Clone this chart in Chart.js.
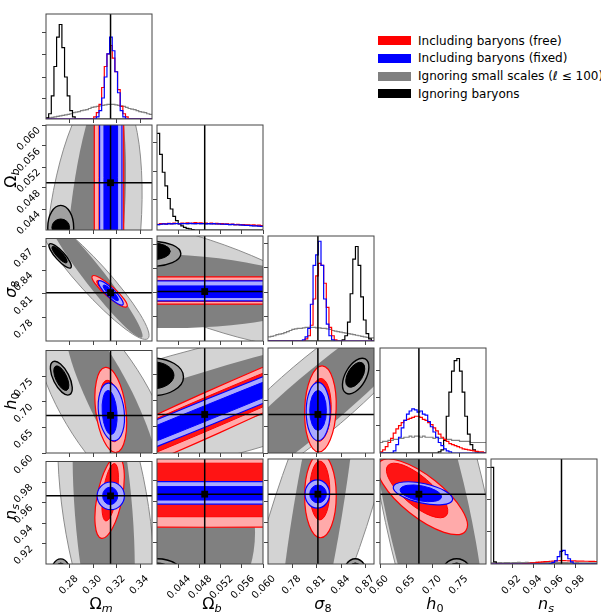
<!DOCTYPE html>
<html>
<head>
<meta charset="utf-8">
<script src="https://cdn.jsdelivr.net/npm/chart.js@4.4.0/dist/chart.umd.min.js"></script>
<style>
  body { margin: 0; background: #fff; width: 601px; height: 613px; position: relative; overflow: hidden; font-family: "DejaVu Sans", sans-serif; }
  canvas { position: absolute; }
  .axlab { position: absolute; font-size: 16px; text-align: center; white-space: nowrap; line-height: 20px; }
  .axlab sub { font-size: 70%; vertical-align: -0.25em; line-height: 0; }
  .leg { position: absolute; font-size: 12px; white-space: nowrap; line-height: 14px; }
  .legbox { position: absolute; width: 33px; height: 9px; }
</style>
</head>
<body>
<script>
// parameter ranges, truth values and ticks
const ranges = [[0.26, 0.35], [0.04, 0.06], [0.75, 0.88], [0.60, 0.80], [0.90, 1.00]];
const truth = [0.3148, 0.0490, 0.8112, 0.6734, 0.9665];
const tickVals = [[0.28, 0.30, 0.32, 0.34], [0.044, 0.048, 0.052, 0.056, 0.060], [0.78, 0.81, 0.84, 0.87], [0.60, 0.65, 0.70, 0.75], [0.92, 0.94, 0.96, 0.98]];
const tickDigits = [2, 3, 2, 2, 2];
const diagTicks = [[0.2, 0.4, 0.61, 0.82], [0.29, 0.56, 0.83], [0.23, 0.46, 0.70, 0.93], [0.26, 0.53, 0.79], [0.31, 0.61, 0.92]];
const axisLabels = ['Ω<sub><i>m</i></sub>', 'Ω<sub><i>b</i></sub>', '<i>σ</i><sub>8</sub>', '<i>h</i><sub>0</sub>', '<i>n</i><sub><i>s</i></sub>'];

const legendLabels = ['Including baryons (free)', 'Including baryons (fixed)', 'Ignoring small scales (<i>ℓ</i> ≤ 100)', 'Ignoring baryons'];
const legendColors = ['#ff0000', '#0000ff', '#808080', '#000000'];

// 1D histograms, 40 bins over each range, height as fraction of panel
const histBlack = [
  [0.01,0.05,0.22,0.50,0.78,0.90,0.68,0.40,0.22,0.08,0.02,0,0,0,0,0,0,0,0,0,0,0,0,0,0,0,0,0,0,0,0,0,0,0,0,0,0,0,0,0],
  [0.92,0.72,0.55,0.42,0.30,0.20,0.13,0.09,0.06,0.04,0.025,0.015,0.01,0.005,0,0,0,0,0,0,0,0,0,0,0,0,0,0,0,0,0,0,0,0,0,0,0,0,0,0],
  [0,0,0,0,0,0,0,0,0,0,0,0,0,0,0,0,0,0,0,0,0,0,0,0,0,0,0,0,0.01,0.05,0.18,0.45,0.78,0.90,0.72,0.42,0.20,0.07,0.02,0],
  [0,0,0,0,0,0,0,0,0,0,0,0,0,0,0,0,0,0,0,0,0,0,0.01,0.03,0.12,0.35,0.58,0.78,0.88,0.90,0.78,0.58,0.35,0.18,0.08,0.03,0.01,0,0,0],
  [0.92,0.02,0,0,0,0,0,0,0,0,0,0,0,0,0,0,0,0,0,0,0,0,0,0,0,0,0,0,0,0,0,0,0,0,0,0,0,0,0,0]
];
const histRed = [
  [0,0,0,0,0,0,0,0,0,0,0,0,0,0,0,0,0,0,0.02,0.06,0.14,0.30,0.50,0.62,0.70,0.58,0.45,0.28,0.12,0.05,0.02,0,0,0,0,0,0,0,0,0],
  [0.055,0.06,0.062,0.058,0.063,0.06,0.065,0.062,0.06,0.066,0.063,0.068,0.064,0.066,0.07,0.065,0.068,0.064,0.066,0.062,0.065,0.06,0.063,0.058,0.06,0.056,0.058,0.054,0.056,0.052,0.054,0.05,0.052,0.048,0.05,0.046,0.048,0.044,0.046,0.042],
  [0,0,0,0,0,0,0,0,0,0,0,0,0,0,0.02,0.05,0.15,0.40,0.62,0.74,0.72,0.55,0.32,0.13,0.05,0.01,0,0,0,0,0,0,0,0,0,0,0,0,0,0],
  [0.01,0.03,0.06,0.10,0.14,0.19,0.23,0.26,0.29,0.31,0.32,0.33,0.34,0.35,0.35,0.34,0.32,0.31,0.29,0.27,0.24,0.21,0.18,0.15,0.13,0.11,0.09,0.08,0.07,0.06,0.05,0.04,0.035,0.03,0.025,0.02,0.015,0.01,0.01,0.005],
  [0,0,0,0,0,0,0,0,0,0,0,0,0.003,0.005,0.007,0.01,0.012,0.015,0.018,0.02,0.022,0.024,0.026,0.028,0.03,0.031,0.032,0.032,0.031,0.03,0.03,0.029,0.028,0.028,0.027,0.026,0.026,0.025,0.025,0.024]
];
const histBlue = [
  [0,0,0,0,0,0,0,0,0,0,0,0,0,0,0,0,0,0,0,0.02,0.08,0.20,0.40,0.62,0.78,0.65,0.45,0.25,0.08,0.02,0,0,0,0,0,0,0,0,0,0],
  [0.052,0.055,0.058,0.056,0.06,0.058,0.06,0.062,0.058,0.06,0.062,0.06,0.063,0.061,0.06,0.062,0.06,0.061,0.059,0.06,0.058,0.06,0.057,0.058,0.055,0.056,0.054,0.052,0.053,0.05,0.05,0.048,0.047,0.045,0.044,0.042,0.04,0.039,0.037,0.035],
  [0,0,0,0,0,0,0,0,0,0,0,0,0,0.01,0.04,0.12,0.35,0.72,0.82,0.95,0.72,0.40,0.16,0.05,0.01,0,0,0,0,0,0,0,0,0,0,0,0,0,0,0],
  [0,0,0,0,0,0.02,0.08,0.15,0.24,0.31,0.37,0.40,0.42,0.41,0.39,0.40,0.37,0.36,0.30,0.25,0.20,0.15,0.10,0.07,0.04,0.02,0.01,0,0,0,0,0,0,0,0,0,0,0,0,0],
  [0,0,0,0,0,0,0,0,0,0,0,0,0,0,0,0,0,0,0,0,0,0,0.005,0.015,0.03,0.07,0.12,0.13,0.09,0.05,0.02,0.005,0,0,0,0,0,0,0,0]
];
const histGray = [
  [0.01,0.01,0.015,0.02,0.025,0.03,0.035,0.04,0.045,0.05,0.06,0.065,0.07,0.08,0.085,0.09,0.10,0.11,0.115,0.12,0.125,0.13,0.135,0.14,0.14,0.14,0.135,0.13,0.125,0.12,0.11,0.10,0.095,0.09,0.08,0.07,0.065,0.06,0.05,0.045],
  [0.05,0.054,0.056,0.055,0.058,0.057,0.059,0.06,0.057,0.059,0.06,0.059,0.061,0.06,0.059,0.06,0.059,0.06,0.058,0.059,0.057,0.058,0.056,0.057,0.054,0.055,0.053,0.051,0.052,0.049,0.049,0.047,0.046,0.044,0.043,0.041,0.039,0.038,0.036,0.034],
  [0.04,0.045,0.05,0.06,0.065,0.07,0.08,0.09,0.10,0.11,0.115,0.12,0.12,0.125,0.13,0.13,0.13,0.13,0.125,0.125,0.12,0.12,0.115,0.11,0.10,0.095,0.09,0.085,0.08,0.075,0.07,0.065,0.06,0.055,0.05,0.045,0.04,0.035,0.03,0.03],
  [0.10,0.11,0.11,0.12,0.12,0.13,0.13,0.14,0.14,0.15,0.15,0.16,0.15,0.16,0.16,0.15,0.16,0.15,0.15,0.15,0.14,0.15,0.14,0.14,0.13,0.13,0.13,0.12,0.12,0.12,0.11,0.11,0.11,0.11,0.10,0.10,0.10,0.10,0.10,0.10],
  [0.01,0.012,0.011,0.013,0.012,0.014,0.013,0.012,0.014,0.013,0.015,0.014,0.013,0.015,0.014,0.013,0.014,0.015,0.014,0.013,0.014,0.013,0.015,0.014,0.013,0.014,0.012,0.013,0.014,0.012,0.013,0.012,0.013,0.011,0.012,0.012,0.011,0.012,0.011,0.01]
];

// 2D contours: [xParam, yParam, centreX, centreY, halfWidthX, halfWidthY, tilt]
const grayOuter = [
  [0,1, 0.300, 0.038, 0.0416, 0.030, 0.30], [0,2, 0.300, 0.830, 0.0475, 0.078, -0.934],
  [0,3, 0.310, 0.700, 0.060, 0.200, -0.70], [0,4, 0.311, 0.950, 0.041, 0.150, -0.44],
  [1,2, 0.050, 0.820, 0.027, 0.080, -0.726], [1,3, 0.050, 0.695, 0.050, 0.1665, 0.751],
  [1,4, 0.047, 0.940, 0.020, 0.130, 0], [2,3, 0.810, 0.710, 0.150, 0.2012, 0.8945],
  [2,4, 0.815, 0.950, 0.103, 0.207, 0.80], [3,4, 0.706, 0.950, 0.140, 0.240, -0.70]
];
const grayInner = [
  [0,1, 0.3017, 0.038, 0.0262, 0.030, 0.44], [0,2, 0.302, 0.830, 0.040, 0.076, -0.964],
  [0,3, 0.316, 0.700, 0.040, 0.170, -0.85], [0,4, 0.309, 0.950, 0.0264, 0.150, -0.37],
  [1,2, 0.040, 0.812, 0.030, 0.046, -0.1], [1,3, 0.050, 0.700, 0.050, 0.1608, 0.933],
  [1,4, 0.045, 0.930, 0.0135, 0.090, 0], [2,3, 0.810, 0.700, 0.150, 0.1995, 0.94],
  [2,4, 0.811, 0.950, 0.0508, 0.1957, 0.80], [3,4, 0.690, 0.950, 0.112, 0.190, -0.70]
];
const blackOuter = [
  [0,1, 0.2725, 0.0405, 0.011, 0.0042, 0], [0,2, 0.272, 0.858, 0.0095, 0.0155, -0.85],
  [0,3, 0.273, 0.746, 0.0093, 0.033, -0.6], [0,4, 0.2725, 0.885, 0.0095, 0.020, 0],
  [1,2, 0.039, 0.858, 0.0055, 0.0155, 0], [1,3, 0.039, 0.745, 0.006, 0.036, 0],
  [1,4, 0.040, 0.885, 0.0055, 0.020, 0], [2,3, 0.8575, 0.7465, 0.0162, 0.034, 0.5],
  [2,4, 0.857, 0.885, 0.0162, 0.020, 0], [3,4, 0.7446, 0.885, 0.032, 0.020, 0]
];
const blackInner = [
  [0,1, 0.2725, 0.0405, 0.0075, 0.0016, 0], [0,2, 0.2715, 0.8595, 0.0065, 0.0105, -0.85],
  [0,3, 0.273, 0.746, 0.0064, 0.024, -0.6], [0,4, 0.2725, 0.885, 0.0065, 0.016, 0],
  [1,2, 0.039, 0.861, 0.0035, 0.0105, 0], [1,3, 0.039, 0.748, 0.0042, 0.026, 0],
  [1,4, 0.040, 0.885, 0.0038, 0.016, 0], [2,3, 0.857, 0.749, 0.0117, 0.0238, 0.5],
  [2,4, 0.857, 0.885, 0.0117, 0.016, 0], [3,4, 0.7446, 0.885, 0.023, 0.016, 0]
];
const redOuter = [
  [0,1, 0.3135, 0.050, 0.0125, 0.200, 0], [0,2, 0.314, 0.813, 0.015, 0.020, -0.9],
  [0,3, 0.315, 0.684, 0.0135, 0.083, -0.3], [0,4, 0.314, 0.965, 0.0125, 0.040, 0.5],
  [1,2, 0.050, 0.8125, 0.200, 0.0168, 0], [1,3, 0.050, 0.675, 0.050, 0.2294, 0.981],
  [1,4, 0.050, 0.975, 0.200, 0.040, 0], [2,3, 0.8143, 0.684, 0.0194, 0.082, 0.1],
  [2,4, 0.8143, 0.965, 0.0194, 0.040, 0], [3,4, 0.680, 0.964, 0.085, 0.036, -0.75]
];
const redInner = [
  [0,1, 0.3135, 0.050, 0.0085, 0.200, 0], [0,2, 0.314, 0.812, 0.011, 0.015, -0.9],
  [0,3, 0.315, 0.682, 0.0095, 0.060, -0.3], [0,4, 0.3145, 0.970, 0.007, 0.028, 0.5],
  [1,2, 0.050, 0.812, 0.200, 0.013, 0], [1,3, 0.050, 0.677, 0.050, 0.2175, 0.9886],
  [1,4, 0.050, 0.9705, 0.200, 0.0255, 0], [2,3, 0.8135, 0.682, 0.014, 0.060, 0.1],
  [2,4, 0.8135, 0.970, 0.0123, 0.028, 0], [3,4, 0.670, 0.970, 0.058, 0.026, -0.75]
];
const blueOuter = [
  [0,1, 0.315, 0.050, 0.0095, 0.200, 0], [0,2, 0.315, 0.811, 0.0106, 0.0155, -0.88],
  [0,3, 0.3155, 0.680, 0.0112, 0.0565, -0.2], [0,4, 0.315, 0.9665, 0.0116, 0.0135, 0],
  [1,2, 0.050, 0.812, 0.200, 0.0124, 0], [1,3, 0.050, 0.679, 0.050, 0.2066, 0.992],
  [1,4, 0.050, 0.9677, 0.200, 0.0107, 0], [2,3, 0.8115, 0.679, 0.0147, 0.0555, 0],
  [2,4, 0.8104, 0.9667, 0.015, 0.0135, 0], [3,4, 0.681, 0.9673, 0.056, 0.011, -0.5]
];
const blueInner = [
  [0,1, 0.315, 0.050, 0.0058, 0.200, 0], [0,2, 0.315, 0.811, 0.0065, 0.010, -0.88],
  [0,3, 0.314, 0.679, 0.0064, 0.043, -0.2], [0,4, 0.3145, 0.9665, 0.0064, 0.0085, 0],
  [1,2, 0.050, 0.811, 0.200, 0.0072, 0], [1,3, 0.050, 0.679, 0.050, 0.2055, 0.9973],
  [1,4, 0.050, 0.9673, 0.200, 0.0064, 0], [2,3, 0.8114, 0.681, 0.0102, 0.038, 0],
  [2,4, 0.8114, 0.9667, 0.0102, 0.0085, 0], [3,4, 0.677, 0.9673, 0.039, 0.008, -0.4]
];

// layout
const colLeft = [46, 157, 268, 380, 491];
const rowTop = [14, 125, 236, 348, 459];
const PW = 106, PH = 105;
const padL = 60, padB = 60, padT = 14, padR = 14;
const FONT = 'DejaVu Sans';
const frameCol = '#444444';
const xLabelShift = [7, 11, 7, 7, 7];
const yLabelPad = [0, 3, 10.5, 10.5, 10.5];

const layers = [
  [grayOuter, '#d3d3d3', '#8c8c8c', 1],
  [grayInner, '#808080', null, 0],
  [blackOuter, '#a0a0a0', '#000000', 1.4],
  [blackInner, '#000000', '#000000', 1],
  [redOuter, '#ffaaaa', '#ff0000', 1.2],
  [redInner, '#ff1414', '#ff0000', 1],
  [blueOuter, '#aaaaff', '#0000ff', 1.2],
  [blueInner, '#0000ff', '#0000ff', 1]
];

function drawEllipse(ctx, chart, e, fill, stroke, lw) {
  const xs = chart.scales.x, ys = chart.scales.y;
  const px = xs.getPixelForValue(e[2]), py = ys.getPixelForValue(e[3]);
  const kx = (xs.getPixelForValue(xs.max) - xs.getPixelForValue(xs.min)) / (xs.max - xs.min);
  const ky = (ys.getPixelForValue(ys.max) - ys.getPixelForValue(ys.min)) / (ys.max - ys.min);
  const sxx = Math.pow(e[4] * kx, 2), syy = Math.pow(e[5] * ky, 2);
  const sxy = e[6] * e[4] * e[5] * kx * ky;
  const tr = (sxx + syy) / 2, det = sxx * syy - sxy * sxy;
  const d = Math.sqrt(Math.max(tr * tr - det, 0));
  const r1 = Math.sqrt(tr + d), r2 = Math.sqrt(Math.max(tr - d, 0.01));
  const ang = 0.5 * Math.atan2(2 * sxy, sxx - syy);
  ctx.beginPath();
  ctx.ellipse(px, py, r1, r2, ang, 0, Math.PI * 2);
  if (fill) { ctx.fillStyle = fill; ctx.fill(); }
  if (stroke) { ctx.strokeStyle = stroke; ctx.lineWidth = lw; ctx.stroke(); }
}

const cornerPlugin = {
  id: 'corner',
  beforeDatasetsDraw(chart, args, opts) {
    if (opts.row === opts.col) return;
    const ctx = chart.ctx, ca = chart.chartArea;
    ctx.save();
    ctx.beginPath();
    ctx.rect(ca.left, ca.top, ca.right - ca.left, ca.bottom - ca.top);
    ctx.clip();
    layers.forEach(([list, fill, stroke, lw]) => {
      list.filter(e => e[0] === opts.col && e[1] === opts.row)
        .forEach(e => drawEllipse(ctx, chart, e, fill, stroke, lw));
    });
    ctx.restore();
  },
  afterDatasetsDraw(chart) {
    const ctx = chart.ctx, ca = chart.chartArea;
    ctx.save();
    ctx.strokeStyle = frameCol;
    ctx.lineWidth = 1;
    ctx.strokeRect(ca.left, ca.top, ca.right - ca.left, ca.bottom - ca.top);
    ctx.restore();
  }
};

function histPoints(vals, range) {
  const w = (range[1] - range[0]) / vals.length;
  const pts = vals.map((v, i) => ({ x: range[0] + i * w, y: v }));
  pts.push({ x: range[1], y: vals[vals.length - 1] });
  return pts;
}

function histSet(vals, range, color, order) {
  return { type: 'line', data: histPoints(vals, range), borderColor: color, borderWidth: 1.2,
    stepped: 'before', pointRadius: 0, fill: false, clip: 0, order: order };
}

function lineSet(pts, order) {
  return { type: 'line', data: pts, borderColor: '#000', borderWidth: 1.5, pointRadius: 0,
    fill: false, clip: 0, order: order };
}

function makePanel(r, c) {
  const diag = r === c;
  const xr = ranges[c];
  const yr = diag ? [0, 1] : ranges[r];
  const cv = document.createElement('canvas');
  cv.width = PW + padL + padR;
  cv.height = PH + padT + padB;
  cv.style.left = (colLeft[c] - padL) + 'px';
  cv.style.top = (rowTop[r] - padT) + 'px';
  cv.style.width = cv.width + 'px';
  cv.style.height = cv.height + 'px';
  document.body.appendChild(cv);

  let datasets;
  if (diag) {
    datasets = [
      histSet(histGray[c], xr, '#808080', 5),
      histSet(histBlack[c], xr, '#000000', 4),
      histSet(histRed[c], xr, '#ff0000', 3),
      histSet(histBlue[c], xr, '#0000ff', 2),
      lineSet([{ x: truth[c], y: 0 }, { x: truth[c], y: 1 }], 1)
    ];
  } else {
    datasets = [
      lineSet([{ x: truth[c], y: yr[0] }, { x: truth[c], y: yr[1] }], 2),
      lineSet([{ x: xr[0], y: truth[r] }, { x: xr[1], y: truth[r] }], 1),
      { type: 'scatter', data: [{ x: truth[c], y: truth[r] }], pointStyle: 'rect', pointRadius: 4.8,
        backgroundColor: '#000', borderColor: '#000', borderWidth: 0, clip: 0, order: 0 }
    ];
  }

  const tickFont = { family: FONT, size: 10 };
  new Chart(cv, {
    type: 'line',
    data: { datasets: datasets },
    options: {
      responsive: false,
      animation: false,
      events: [],
      layout: { padding: { top: padT, right: padR, left: 0, bottom: 0 } },
      plugins: { legend: { display: false }, tooltip: { enabled: false }, corner: { row: r, col: c } },
      scales: {
        x: {
          type: 'linear', min: xr[0], max: xr[1],
          afterBuildTicks: s => { s.ticks = tickVals[c].map(v => ({ value: v })); },
          afterFit: s => { s.height = padB; },
          grid: { drawOnChartArea: false, drawTicks: true, tickLength: 4, color: frameCol, lineWidth: 1 },
          border: { display: false },
          ticks: { display: r === 4, minRotation: 45, maxRotation: 45, padding: 5, labelOffset: xLabelShift[c],
            color: '#000', font: tickFont, callback: v => Number(v).toFixed(tickDigits[c]) }
        },
        y: {
          type: 'linear', min: yr[0], max: yr[1],
          afterBuildTicks: s => { s.ticks = (diag ? diagTicks[r] : tickVals[r]).map(v => ({ value: v })); },
          afterFit: s => { s.width = padL; },
          grid: { drawOnChartArea: false, drawTicks: true, tickLength: 4, color: frameCol, lineWidth: 1 },
          border: { display: false },
          ticks: { display: c === 0 && r > 0, minRotation: 45, maxRotation: 45, padding: yLabelPad[r], labelOffset: 4,
            color: '#000', font: tickFont, callback: v => Number(v).toFixed(tickDigits[r]) }
        }
      }
    },
    plugins: [cornerPlugin]
  });
}

for (let r = 0; r < 5; r++) {
  for (let c = 0; c <= r; c++) makePanel(r, c);
}

// axis labels
axisLabels.forEach((html, i) => {
  const d = document.createElement('div');
  d.className = 'axlab';
  d.innerHTML = html;
  d.style.width = PW + 'px';
  d.style.left = (colLeft[i] + 2) + 'px';
  d.style.top = '594px';
  document.body.appendChild(d);
  if (i > 0) {
    const y = document.createElement('div');
    y.className = 'axlab';
    y.innerHTML = html;
    y.style.width = PW + 'px';
    y.style.left = (11 - PW / 2) + 'px';
    y.style.top = (rowTop[i] + PH / 2 - 10) + 'px';
    y.style.transform = 'rotate(-90deg)';
    document.body.appendChild(y);
  }
});

// legend
legendLabels.forEach((txt, i) => {
  const cy = 40.5 + i * 17.8;
  const b = document.createElement('div');
  b.className = 'legbox';
  b.style.left = '378px';
  b.style.top = (cy - 4.5) + 'px';
  b.style.background = legendColors[i];
  document.body.appendChild(b);
  const t = document.createElement('div');
  t.className = 'leg';
  t.innerHTML = txt;
  t.style.left = '418px';
  t.style.top = (cy - 7) + 'px';
  document.body.appendChild(t);
});
</script>
</body>
</html>
